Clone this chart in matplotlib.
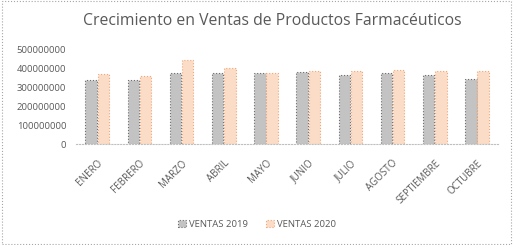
import numpy as np
import matplotlib.pyplot as plt
from matplotlib.patches import Rectangle

meses = ['ENERO', 'FEBRERO', 'MARZO', 'ABRIL', 'MAYO', 'JUNIO', 'JULIO',
         'AGOSTO', 'SEPTIEMBRE', 'OCTUBRE']
ventas_2019 = [342e6, 342e6, 379e6, 379e6, 380e6, 383e6, 368e6, 375e6, 368e6, 346e6]
ventas_2020 = [373e6, 363e6, 447e6, 405e6, 376e6, 389e6, 389e6, 396e6, 389e6, 389e6]
y_ticks = [0, 100000000, 200000000, 300000000, 400000000, 500000000]

plt.rcParams['font.family'] = ['Open Sans', 'DejaVu Sans']
txt = '#595959'

fig = plt.figure(figsize=(5.14, 2.45), dpi=100)
ax = fig.add_axes([0.148, 0.412, 0.821, 0.384])

x = np.arange(len(meses))
w = 0.27
ax.bar(x - 0.145, ventas_2019, w, color='#c3c3c3', edgecolor='#6f6f6f',
       linewidth=0.8, linestyle=':', label='VENTAS 2019')
ax.bar(x + 0.145, ventas_2020, w, color='#fbdcc6', edgecolor='#f0a878',
       linewidth=0.8, linestyle=':', label='VENTAS 2020')

ax.set_xlim(-0.5, len(meses) - 0.5)
ax.set_ylim(0, 500000000)
ax.set_yticks(y_ticks)
ax.set_yticklabels(['0' if v == 0 else str(v) for v in y_ticks], fontsize=6.8, color=txt)
ax.set_xticks(x)
ax.set_xticklabels(meses, rotation=45, ha='right', rotation_mode='anchor',
                   fontsize=7, color=txt)
ax.tick_params(axis='y', length=0, pad=7)
ax.tick_params(axis='x', length=0, pad=10)
for s in ['top', 'right', 'left']:
    ax.spines[s].set_visible(False)
ax.spines['bottom'].set_color('#bfbfbf')
ax.spines['bottom'].set_linestyle(':')

fig.text(0.53, 0.915, 'Crecimiento en Ventas de Productos Farmacéuticos',
         ha='center', va='center', fontsize=11.3, color=txt)
fig.legend(loc='center', bbox_to_anchor=(0.5, 0.085), ncol=2, frameon=False,
           fontsize=6.8, labelcolor=txt, handlelength=0.8, handleheight=0.8,
           columnspacing=2.0, handletextpad=0.3)

fig.patches.append(Rectangle((0.003, 0.006), 0.992, 0.988, transform=fig.transFigure,
                             fill=False, edgecolor='#a6a6a6', linestyle=':', linewidth=0.8))

fig.savefig('out.png', dpi=100)
